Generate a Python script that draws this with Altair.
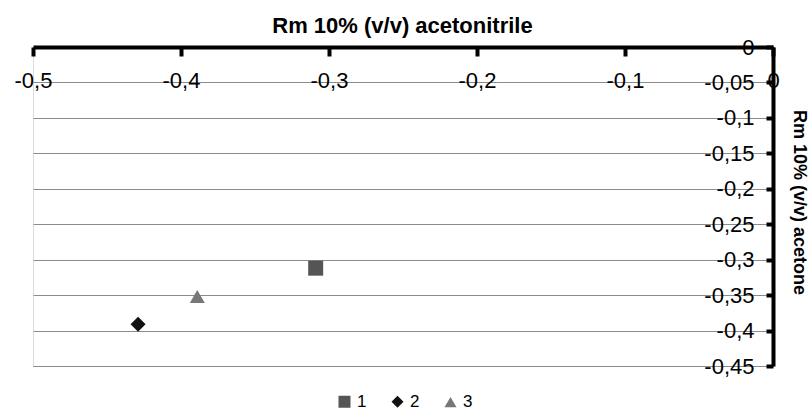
import altair as alt
import pandas as pd

series = ["1", "2", "3"]
x_vals = [-0.309, -0.429, -0.389]
y_vals = [-0.312, -0.391, -0.352]
colors = ["#555555", "#111111", "#777777"]
shapes = ["square", "diamond", "triangle-up"]
x_ticks = [-0.5, -0.4, -0.3, -0.2, -0.1, 0]
y_ticks = [0, -0.05, -0.1, -0.15, -0.2, -0.25, -0.3, -0.35, -0.4, -0.45]
x_title = "Rm 10% (v/v) acetonitrile"
y_title = "Rm 10% (v/v) acetone"

df = pd.DataFrame({"s": series, "x": x_vals, "y": y_vals})

W, H = 740, 319
FONT = "Liberation Sans"
lab = "(datum.value < 0 ? '-' : '') + replace(format(abs(datum.value), '.2~f'), '.', ',')"

x_axis = alt.Axis(
    orient="bottom", offset=-H, values=x_ticks, grid=False,
    domainColor="black", domainWidth=4, tickColor="black", tickWidth=4, tickSize=9,
    labelFont=FONT, labelFontSize=22, labelColor="black", labelPadding=14,
    labelFlush=False, labelOverlap=False, labelBound=False, labelExpr=lab,
    title=x_title, titleFont=FONT, titleFontSize=22, titleFontWeight="bold",
    titleColor="black", titleX=369, titleY=-15, titleBaseline="alphabetic",
    titleAlign="center",
)
y_axis = alt.Axis(
    orient="left", offset=-W, values=y_ticks, grid=True, gridColor="#8c8c8c",
    gridWidth=1, domainColor="black", domainWidth=4, tickColor="black",
    tickWidth=4, tickSize=7,
    labelFont=FONT, labelFontSize=22, labelColor="black", labelPadding=12,
    labelFlush=False, labelOverlap=False, labelBound=False, labelExpr=lab,
    title=y_title, titleFont=FONT, titleFontSize=18, titleFontWeight="bold",
    titleColor="black", titleAngle=90, titleX=25, titleY=155,
    titleAlign="center", titleBaseline="middle",
)

chart = alt.Chart(df).mark_point(filled=True, opacity=1, size=225).encode(
    x=alt.X("x:Q", scale=alt.Scale(domain=[-0.5, 0], nice=False, zero=False), axis=x_axis),
    y=alt.Y("y:Q", scale=alt.Scale(domain=[-0.45, 0], nice=False, zero=False), axis=y_axis),
    color=alt.Color("s:N", scale=alt.Scale(domain=series, range=colors),
                    legend=alt.Legend(orient="none", legendX=303, legendY=346,
                                      direction="horizontal", title=None,
                                      labelFont=FONT, labelFontSize=17,
                                      labelColor="black", symbolSize=144,
                                      symbolOpacity=1, labelOffset=4,
                                      columnPadding=21)),
    shape=alt.Shape("s:N", scale=alt.Scale(domain=series, range=shapes)),
).properties(
    width=W, height=H,
    autosize=alt.AutoSizeParams(type="none"),
    padding={"left": 33, "top": 47, "right": 35, "bottom": 46},
).configure_view(stroke="#444444", strokeWidth=2).configure(background="white")

chart.save("out.html", embed_options={"renderer": "svg", "actions": False})
